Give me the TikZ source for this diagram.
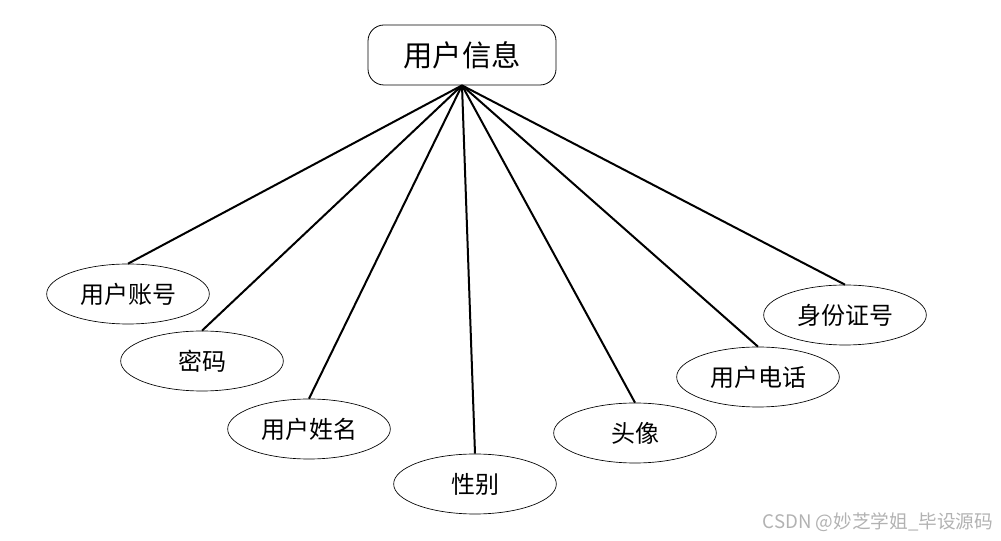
\documentclass[tikz,border=0pt]{standalone}
\usepackage{fontspec}
\newfontfamily\cjk{Noto Sans CJK SC}
\usetikzlibrary{shapes.geometric}

\tikzset{
	entity/.style={draw,rounded corners=12pt,line width=0.6pt,minimum width=141pt,minimum height=45pt,font=\cjk\fontsize{22}{25}\selectfont},
	attr/.style={draw,ellipse,line width=0.5pt,inner sep=0pt,minimum width=122pt,minimum height=45pt,font=\cjk\fontsize{18}{21}\selectfont},
	link/.style={line width=1.5pt}
}

\begin{document}
\begin{tikzpicture}[x=0.75pt,y=-0.75pt]
		\useasboundingbox (0,0) rectangle (1001,541);
		
		% entity
		\node[entity] (info) at (462,55) {用户信息};
		
		% attributes
		\node[attr] (acct)  at (128,294) {用户账号};
		\node[attr] (pwd)   at (202,361) {密码};
		\node[attr] (uname) at (309,429) {用户姓名};
		\node[attr] (sex)   at (475,484) {性别};
		\node[attr] (photo) at (635,433) {头像};
		\node[attr] (phone) at (758,377) {用户电话};
		\node[attr] (idno)  at (845,315) {身份证号};
		
		% links from entity to attributes
		\foreach \a in {acct,pwd,uname,sex,photo,phone,idno}
		\draw[link] (info.south) -- (\a.north);
		
		% watermark
		\node[anchor=east,text=black!30,font=\cjk\fontsize{14}{16}\selectfont] (mark) at (998,522) {CSDN @妙芝学姐\_毕设源码};
	\end{tikzpicture}
\end{document}
